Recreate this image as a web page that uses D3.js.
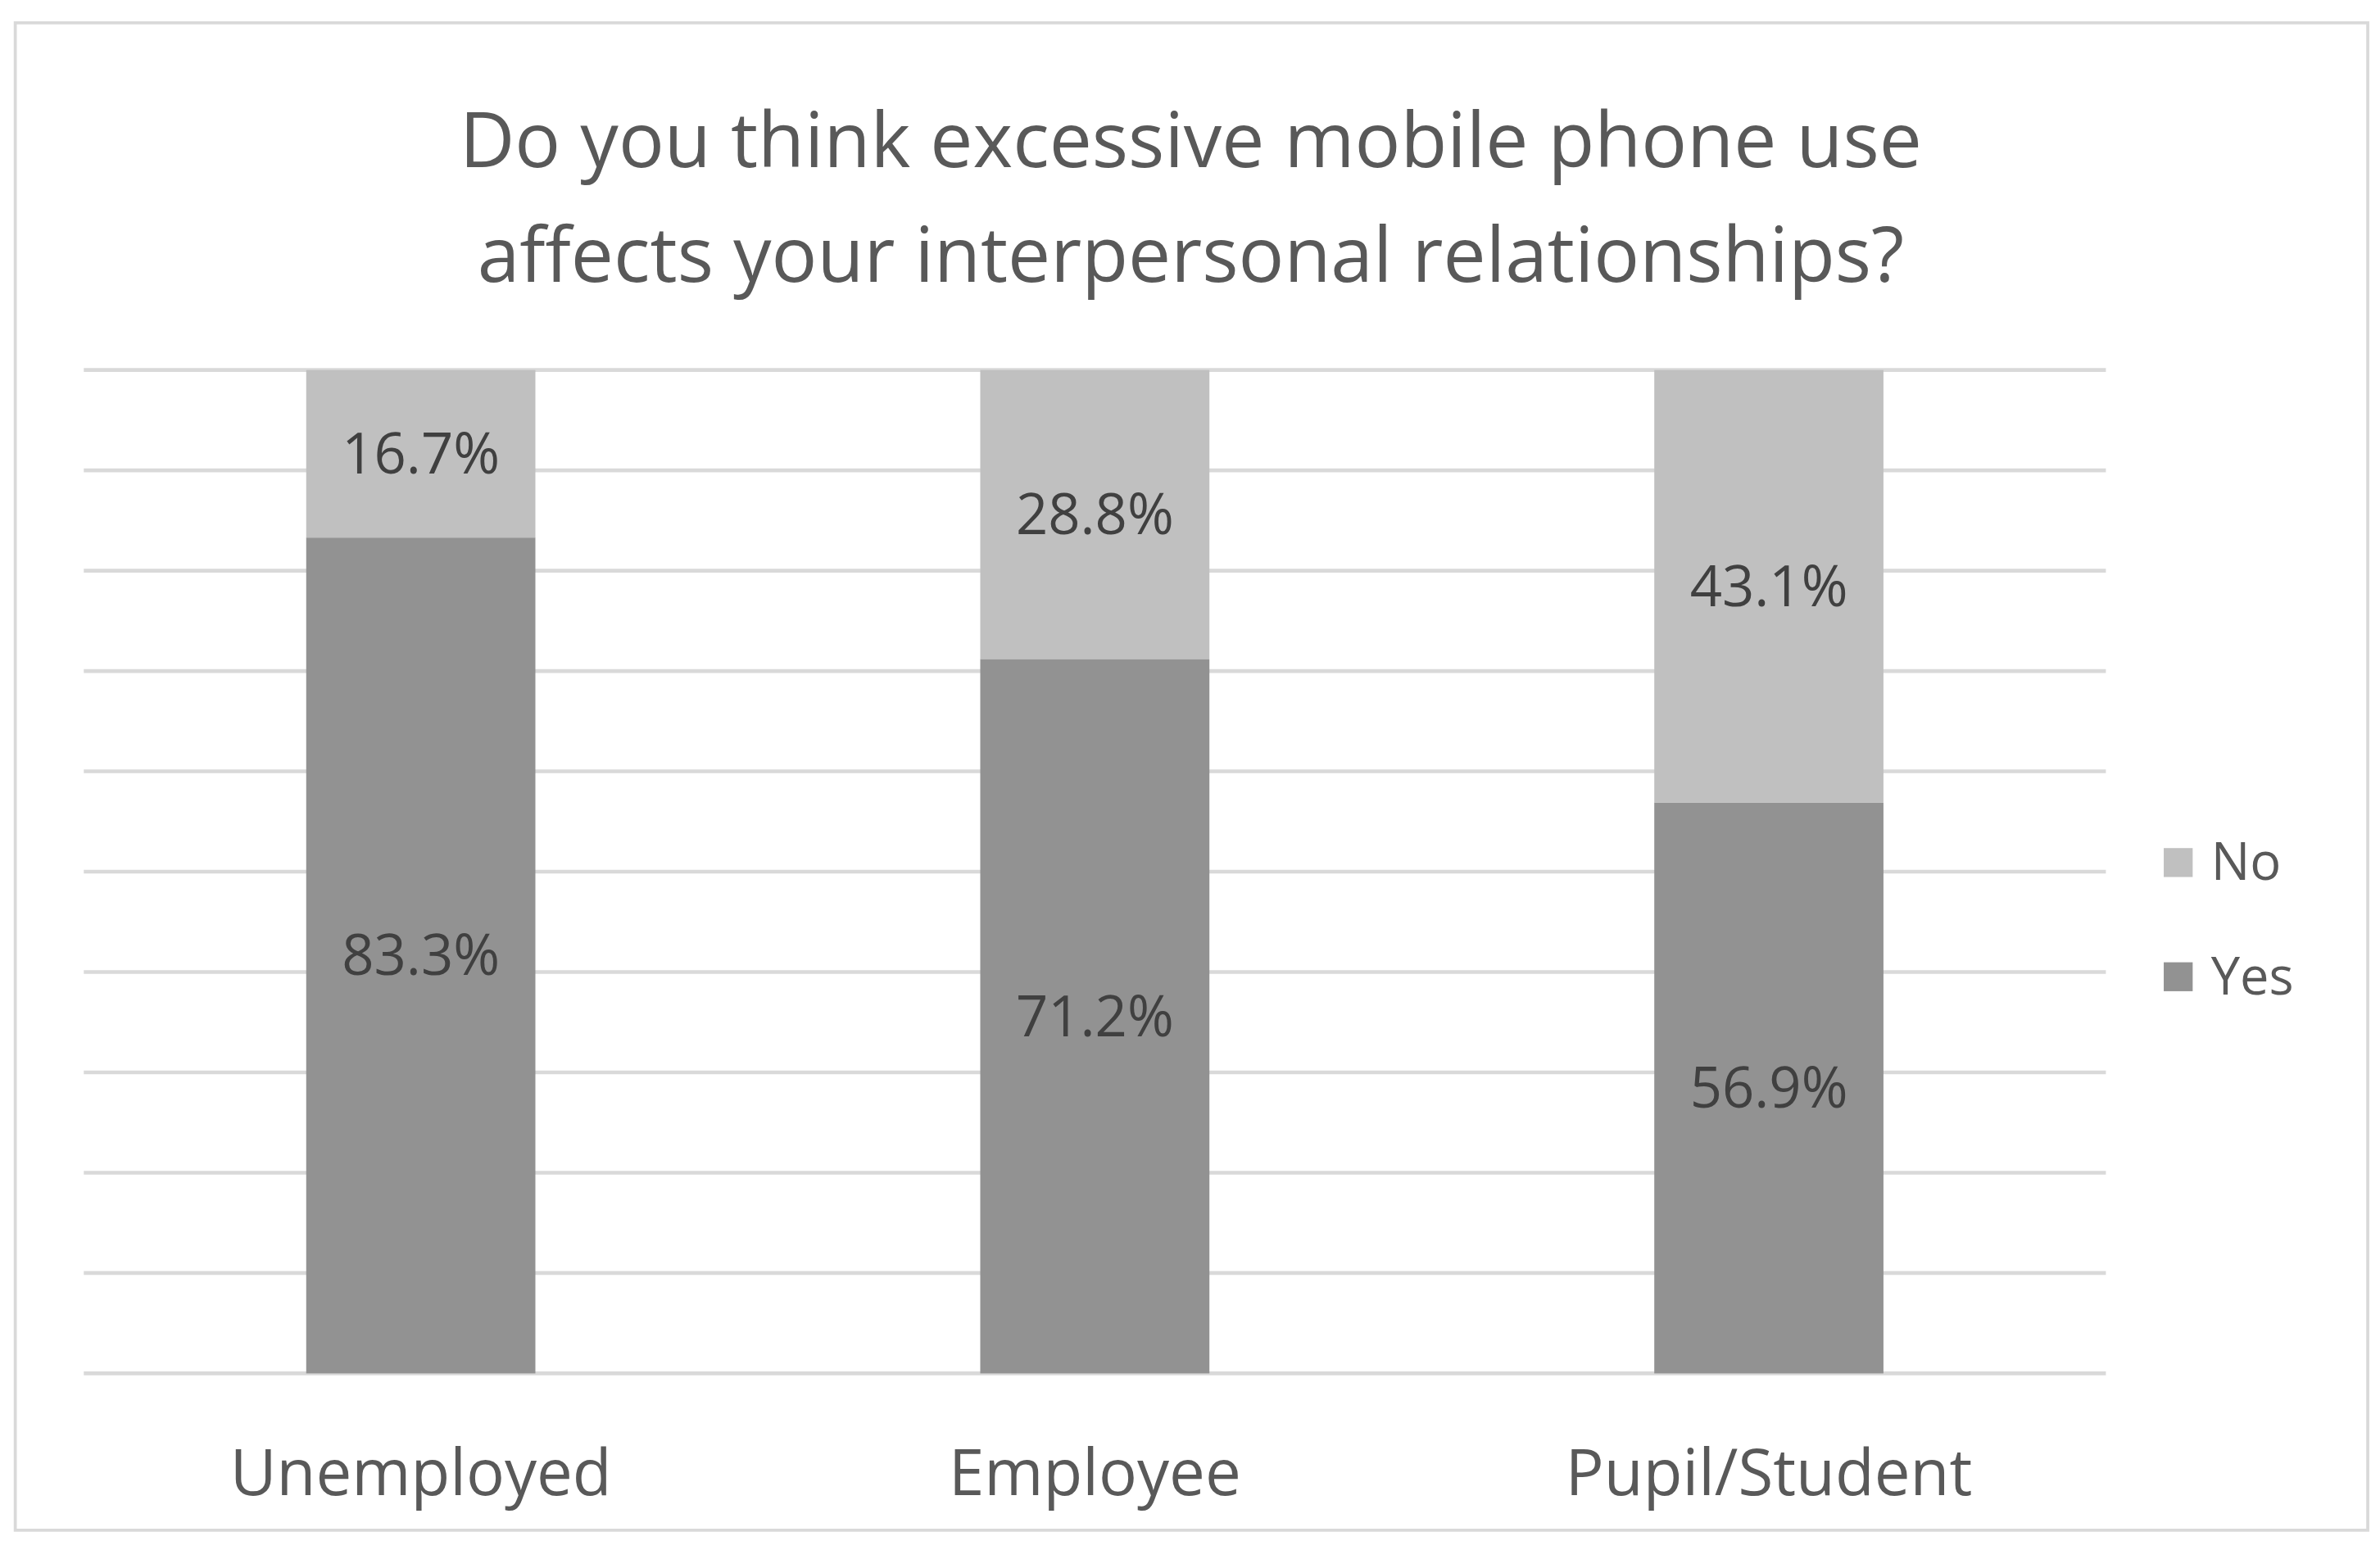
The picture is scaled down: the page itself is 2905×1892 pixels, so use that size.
<!DOCTYPE html>
<html><head><meta charset="utf-8">
<script src="https://cdn.jsdelivr.net/npm/d3@7"></script>
<style>html,body{margin:0;padding:0;background:#fff}</style>
</head><body>
<script>
const categories = ["Unemployed", "Employee", "Pupil/Student"];
const yesValues = [83.3, 71.2, 56.9];
const noValues = [16.7, 28.8, 43.1];
const seriesNames = ["Yes", "No"];
const titleLines = ["Do you think excessive mobile phone use", "affects your interpersonal relationships?"];

const W = 1563, H = 1018;
const svg = d3.select("body").append("svg")
  .attr("width", 2905).attr("height", 1892)
  .attr("viewBox", `0 0 ${W} ${H}`);
svg.append("rect").attr("x", 10).attr("y", 15).attr("width", 1545).attr("height", 990)
  .attr("fill", "#fff").attr("stroke", "#d9d9d9").attr("stroke-width", 2);

const font = "'Open Sans', 'Liberation Sans', sans-serif";
const x = d3.scaleBand().domain(categories).range([55, 1383]).paddingInner(0.66).paddingOuter(0.33);
const y = d3.scaleLinear().domain([0, 100]).range([902, 243]);

svg.append("g").selectAll("line").data(y.ticks(10)).join("line")
  .attr("x1", 55).attr("x2", 1383).attr("y1", d => y(d)).attr("y2", d => y(d))
  .attr("stroke", "#d9d9d9").attr("stroke-width", 2.5);

const colors = {Yes: "#929292", No: "#c0c0c0"};
const rows = categories.map((c, i) => ({cat: c, Yes: yesValues[i], No: noValues[i]}));
const stacked = d3.stack().keys(seriesNames)(rows);
stacked.forEach(s => {
  const g = svg.append("g");
  g.selectAll("rect").data(s).join("rect")
    .attr("x", d => x(d.data.cat)).attr("width", x.bandwidth())
    .attr("y", d => y(d[1])).attr("height", d => y(d[0]) - y(d[1]))
    .attr("fill", colors[s.key]);
  g.selectAll("text").data(s).join("text")
    .attr("x", d => x(d.data.cat) + x.bandwidth() / 2)
    .attr("y", d => (y(d[0]) + y(d[1])) / 2 + 13)
    .attr("text-anchor", "middle").attr("font-family", font).attr("font-size", 37)
    .attr("fill", "#404040").text(d => d.data[s.key].toFixed(1) + "%");
});

svg.append("g").selectAll("text").data(categories).join("text")
  .attr("x", d => x(d) + x.bandwidth() / 2).attr("y", 982)
  .attr("text-anchor", "middle").attr("font-family", font).attr("font-size", 42)
  .attr("fill", "#595959").text(d => d);

svg.append("g").selectAll("text").data(titleLines).join("text")
  .attr("x", 782).attr("y", (d, i) => 110 + i * 75)
  .attr("text-anchor", "middle").attr("font-family", font).attr("font-size", 50)
  .attr("fill", "#595959").text(d => d);

const legend = ["No", "Yes"];
const lg = svg.append("g").selectAll("g").data(legend).join("g")
  .attr("transform", (d, i) => `translate(1421, ${557 + i * 75})`);
lg.append("rect").attr("width", 19).attr("height", 19).attr("fill", d => colors[d]);
lg.append("text").attr("x", 31).attr("y", 21).attr("font-family", font).attr("font-size", 34)
  .attr("fill", "#595959").text(d => d);
</script>
</body></html>
